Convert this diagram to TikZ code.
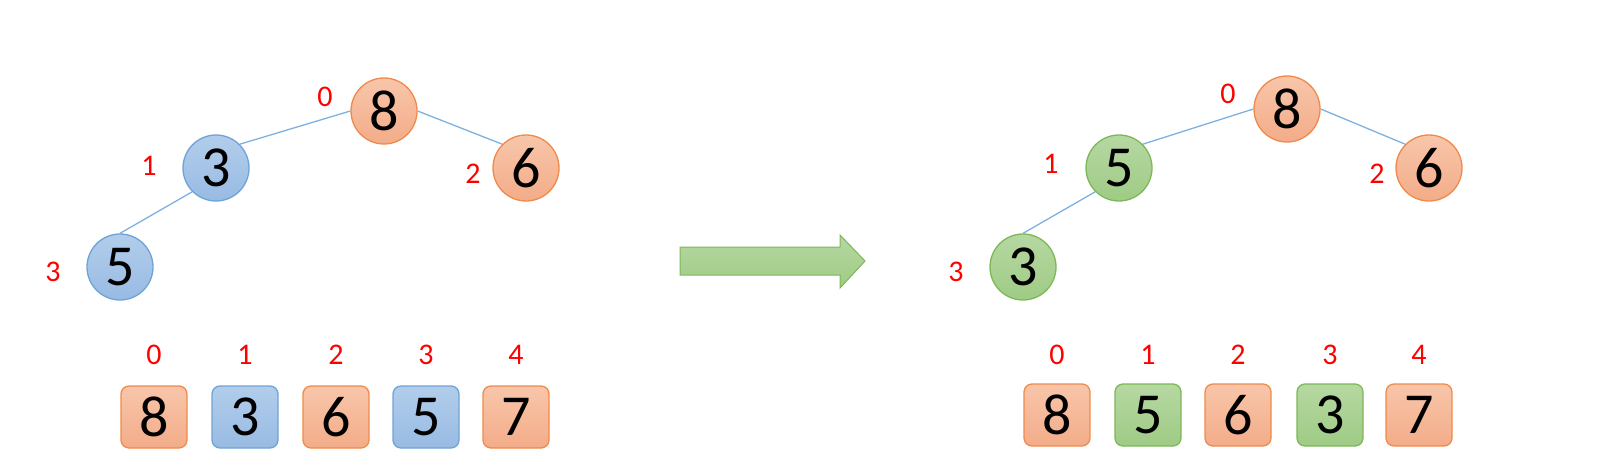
\documentclass[tikz,border=0pt]{standalone}
\usepackage{fontspec}
\setmainfont{Carlito}
\definecolor{orBorder}{HTML}{F08A4B}
\definecolor{orTop}{HTML}{F8C6AA}
\definecolor{orBot}{HTML}{F3AC89}
\definecolor{blBorder}{HTML}{6FA3D8}
\definecolor{blTop}{HTML}{B2CDEB}
\definecolor{blBot}{HTML}{98BBE3}
\definecolor{grBorder}{HTML}{7DB858}
\definecolor{grTop}{HTML}{B6D8A2}
\definecolor{grBot}{HTML}{9FCB85}
\definecolor{edgeC}{HTML}{7EB0E0}
\definecolor{idxC}{HTML}{FF0000}
\tikzset{
  bignum/.style={font=\fontsize{58}{58}\selectfont, text=black},
  circ/.style={circle, minimum size=66pt, inner sep=0pt, line width=1.3pt, bignum},
  cellbox/.style={rectangle, rounded corners=8pt, minimum width=66pt, minimum height=62pt, inner sep=0pt, line width=1.3pt, bignum},
  orange/.style={draw=orBorder, top color=orTop, bottom color=orBot},
  blue/.style={draw=blBorder, top color=blTop, bottom color=blBot},
  green/.style={draw=grBorder, top color=grTop, bottom color=grBot},
  idx/.style={text=idxC, font=\fontsize{30}{30}\selectfont, inner sep=0pt},
  edge/.style={draw=edgeC, line width=1.3pt},
}
\begin{document}
\begin{tikzpicture}[x=1pt, y=-1pt]
\useasboundingbox (0,0) rectangle (1611,468);
% ---------- left tree ----------
\node[circ, orange] (L8) at (384,111) {8};
\node[circ, blue]   (L3) at (216,168) {3};
\node[circ, orange] (L6) at (526,168) {6};
\node[circ, blue]   (L5) at (120,267) {5};
\draw[edge] (L8.west) -- (L3.north east);
\draw[edge] (L8.east) -- (L6.north west);
\draw[edge] (L3.south west) -- (L5.north);
\node[idx] (lt0) at (325,97) {0};
\node[idx] (lt1) at (149,166) {1};
\node[idx] (lt2) at (473,174) {2};
\node[idx] (lt3) at (53,272) {3};
% ---------- left array ----------
\node[cellbox, orange] (LA0) at (154,417) {8};
\node[cellbox, blue]   (LA1) at (245,417) {3};
\node[cellbox, orange] (LA2) at (336,417) {6};
\node[cellbox, blue]   (LA3) at (426,417) {5};
\node[cellbox, orange] (LA4) at (516,417) {7};
\foreach \i in {0,...,4} {\node[idx] (la\i) at ([yshift=62pt]LA\i.center) {\i};}
% ---------- arrow ----------
\draw[draw=grBorder, top color=grTop, bottom color=grBot, line width=1pt, line join=miter]
  (680,247) -- (840,247) -- (840,235) -- (865,261) -- (840,288) -- (840,275) -- (680,275) -- cycle;
% ---------- right tree ----------
\node[circ, orange] (R8) at (1287,109) {8};
\node[circ, green]  (R5) at (1119,168) {5};
\node[circ, orange] (R6) at (1429,168) {6};
\node[circ, green]  (R3) at (1023,267) {3};
\draw[edge] (R8.west) -- (R5.north east);
\draw[edge] (R8.east) -- (R6.north west);
\draw[edge] (R5.south west) -- (R3.north);
\node[idx] (rt0) at (1228,94) {0};
\node[idx] (rt1) at (1051,164) {1};
\node[idx] (rt2) at (1377,174) {2};
\node[idx] (rt3) at (956,272) {3};
% ---------- right array ----------
\node[cellbox, orange] (RA0) at (1057,415) {8};
\node[cellbox, green]  (RA1) at (1148,415) {5};
\node[cellbox, orange] (RA2) at (1238,415) {6};
\node[cellbox, green]  (RA3) at (1330,415) {3};
\node[cellbox, orange] (RA4) at (1419,415) {7};
\foreach \i in {0,...,4} {\node[idx] (ra\i) at ([yshift=60pt]RA\i.center) {\i};}
\end{tikzpicture}
\end{document}
